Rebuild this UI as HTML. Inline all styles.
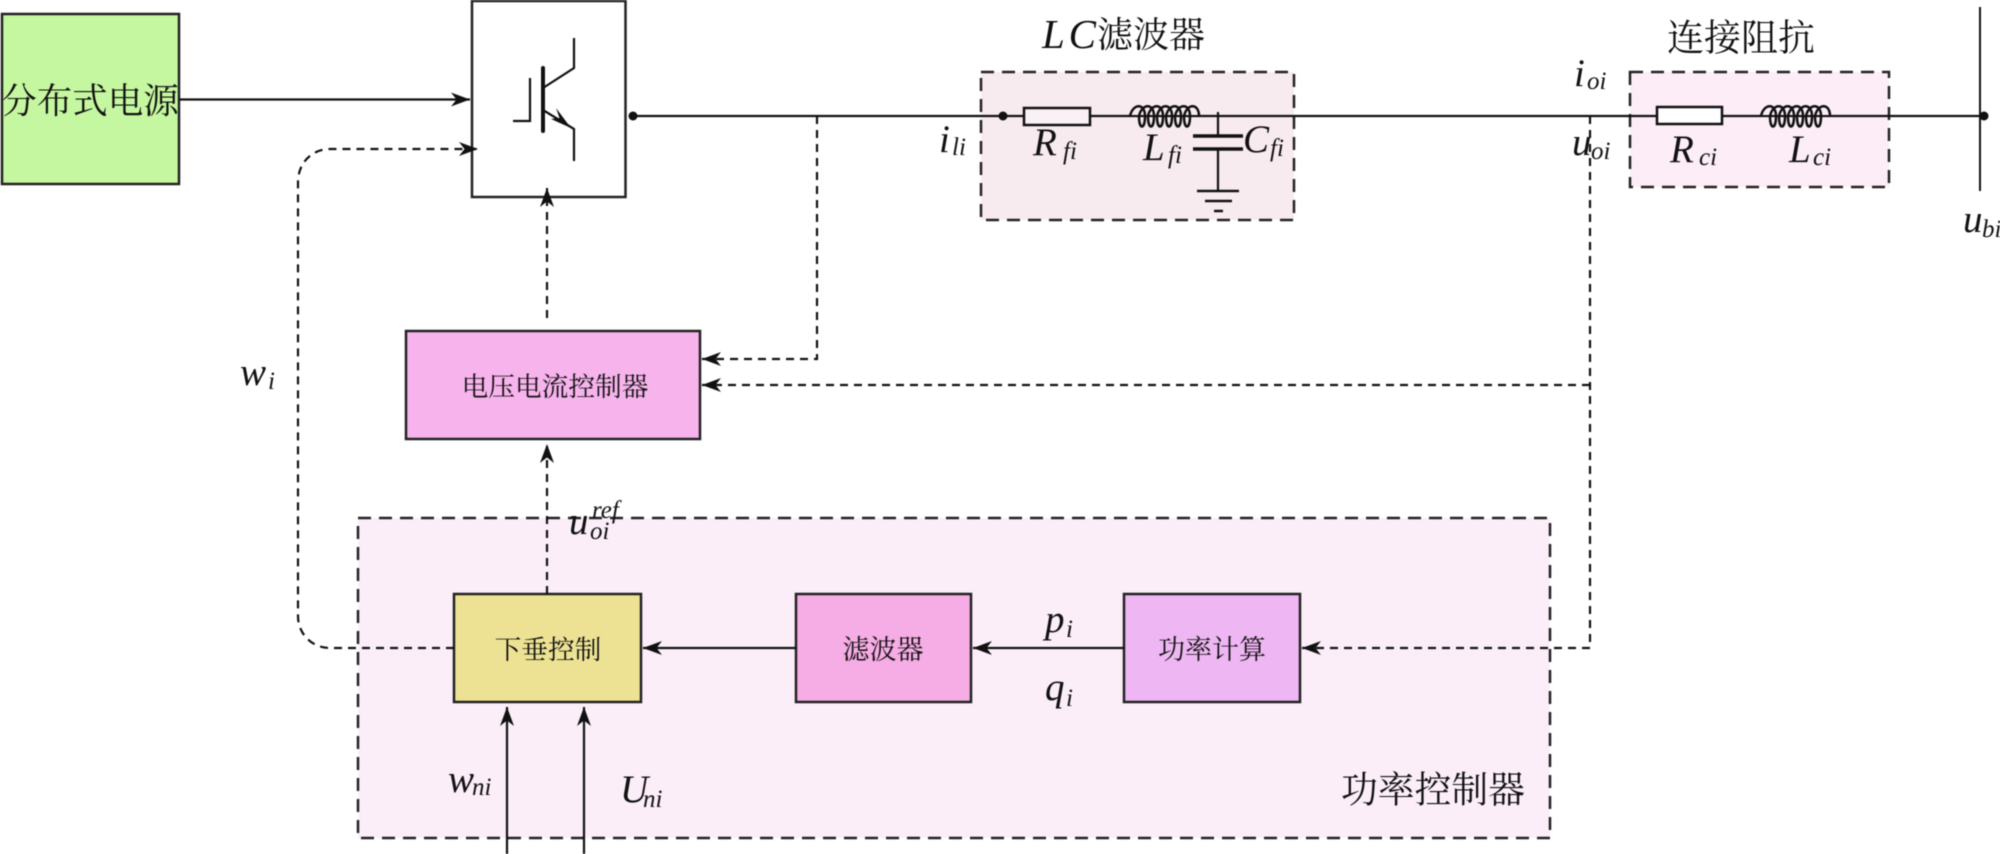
<!DOCTYPE html>
<html><head><meta charset="utf-8"><style>
html,body{margin:0;padding:0;background:#fff}
svg{display:block;filter:blur(.4px)}
.zh{font-family:"Liberation Serif","Noto Serif CJK SC",serif;text-anchor:middle;dominant-baseline:central;fill:#111}
.m{font-family:"Liberation Serif",serif;font-style:italic;font-size:39px;fill:#111}
.s{font-family:"Liberation Serif",serif;font-style:italic;font-size:25px;fill:#111}
.w{fill:none;stroke:#111;stroke-width:2.200}
.box{stroke:#222;stroke-width:2.500}
.dg{fill-opacity:1;stroke:#222;stroke-width:2.500;stroke-dasharray:13 8}
.d{fill:none;stroke:#111;stroke-width:2.200;stroke-dasharray:8 6}
</style></head><body>
<svg width="2000" height="854" viewBox="0 0 2000 854" xmlns="http://www.w3.org/2000/svg">
<defs>
<marker id="a" markerUnits="userSpaceOnUse" markerWidth="22" markerHeight="18" refX="19" refY="8" orient="auto">
<path d="M19 8 L0 1 L5.500 8 L0 15 Z" fill="#111"/>
</marker>
</defs>

<!-- group backgrounds -->
<rect x="981" y="72" width="313" height="148" fill="#f8ebf0" class="dg"/>
<rect x="1630" y="72" width="259" height="115" fill="#fcedf7" class="dg"/>
<rect x="358" y="518" width="1192" height="320" fill="#fbeef9" class="dg"/>

<!-- source -->
<rect x="2" y="14" width="177" height="170" fill="#c5f7a0" class="box"/>
<text x="90" y="101" class="zh" font-size="35.500">分布式电源</text>
<line x1="179" y1="99.500" x2="470" y2="99.500" class="w" marker-end="url(#a)"/>

<!-- IGBT box -->
<rect x="472" y="1" width="153.500" height="196" fill="#fff" class="box"/>
<path d="M574 38V68L543 88" class="w"/>
<path d="M543 110L574 129V161" class="w"/>
<path d="M571 128L556 108L559.500 118L551 119Z" fill="#111"/>
<line x1="543" y1="68" x2="543" y2="131" stroke="#111" stroke-width="4" stroke-linecap="round"/>
<path d="M513 121H530V78" class="w"/>

<!-- main bus -->
<circle cx="633" cy="116" r="4.500" fill="#111"/>
<line x1="633" y1="116" x2="1984" y2="116" stroke="#111" stroke-width="2.200"/>

<!-- LC filter -->
<circle cx="1003" cy="116" r="4.500" fill="#111"/>
<rect x="1024" y="108" width="66" height="17" fill="#f9f1f5" stroke="#111" stroke-width="2.500"/>
<rect x="1130" y="103" width="68" height="12" fill="#f8ebf0"/>
<path d="M1130 116c3-13 15-13 15 0c0 14-6 14-6 0c3-13 15-13 15 0c0 14-6 14-6 0c3-13 15-13 15 0c0 14-6 14-6 0c3-13 15-13 15 0c0 14-6 14-6 0c3-13 15-13 15 0c0 14-6 14-6 0c3-13 15-13 15 0c0 14-6 14-6 0c3-13 15-13 15 0" fill="none" stroke="#111" stroke-width="2.500"/>
<path d="M1218 112V136M1218 149V191" class="w"/>
<path d="M1193 136H1243M1193 149H1243" stroke="#111" stroke-width="3.500" fill="none"/>
<path d="M1197 191H1239M1205 201H1232M1214 211H1223" stroke="#111" stroke-width="2.500" fill="none"/>

<!-- connection impedance -->
<rect x="1657" y="107" width="65" height="17" fill="#fff" stroke="#111" stroke-width="2.500"/>
<rect x="1761" y="103" width="68" height="12" fill="#fcedf7"/>
<path d="M1761 116c3-13 15-13 15 0c0 14-6 14-6 0c3-13 15-13 15 0c0 14-6 14-6 0c3-13 15-13 15 0c0 14-6 14-6 0c3-13 15-13 15 0c0 14-6 14-6 0c3-13 15-13 15 0c0 14-6 14-6 0c3-13 15-13 15 0c0 14-6 14-6 0c3-13 15-13 15 0" fill="none" stroke="#111" stroke-width="2.500"/>
<line x1="1980" y1="7" x2="1980" y2="191" stroke="#111" stroke-width="2"/>
<circle cx="1984" cy="116" r="4.500" fill="#111"/>

<!-- controller boxes -->
<rect x="406" y="331" width="294" height="108" fill="#f6b3ec" class="box"/>
<text x="555" y="387" class="zh" font-size="26.700">电压电流控制器</text>
<rect x="454" y="594" width="187" height="108" fill="#ede294" class="box"/>
<text x="548" y="650" class="zh" font-size="26.700">下垂控制</text>
<rect x="796" y="594" width="175" height="108" fill="#f6ace4" class="box"/>
<text x="883" y="650" class="zh" font-size="27">滤波器</text>
<rect x="1124" y="594" width="176" height="108" fill="#eeb6f2" class="box"/>
<text x="1212" y="650" class="zh" font-size="27">功率计算</text>

<!-- connectors -->
<path d="M454 648H330C312 648 298 634 298 616V182C298 163 312 149 330 149H478" class="d" marker-end="url(#a)"/>
<line x1="547" y1="318" x2="547" y2="188" class="d" stroke-dasharray="13 8" marker-end="url(#a)"/>
<path d="M817 116V359H702" class="d" marker-end="url(#a)"/>
<line x1="1590" y1="385" x2="702" y2="385" class="d" marker-end="url(#a)"/>
<path d="M1590 116V648H1302" class="d" marker-end="url(#a)"/>
<line x1="547" y1="594" x2="547" y2="444" class="d" stroke-dasharray="13 8" marker-end="url(#a)"/>
<line x1="796" y1="648" x2="643" y2="648" class="w" marker-end="url(#a)"/>
<line x1="1124" y1="648" x2="973" y2="648" class="w" marker-end="url(#a)"/>
<line x1="507" y1="854" x2="507" y2="707" class="w" marker-end="url(#a)"/>
<line x1="584" y1="854" x2="584" y2="707" class="w" marker-end="url(#a)"/>

<!-- titles -->
<text x="1042" y="48" class="m" font-size="41" style="font-size:41px" textLength="54">LC</text>
<text x="1151" y="35" class="zh" font-size="36">滤波器</text>
<text x="1741" y="39" class="zh" font-size="37">连接阻抗</text>
<text x="1433" y="790" class="zh" font-size="36.800">功率控制器</text>

<!-- math labels -->
<text x="939" y="152" class="m">i</text><text x="952" y="155" class="s">li</text>
<text x="1033" y="155" class="m">R</text><text x="1063" y="159" class="s">fi</text>
<text x="1143" y="160" class="m">L</text><text x="1168" y="163" class="s">fi</text>
<text x="1243" y="152" class="m">C</text><text x="1270" y="156" class="s">fi</text>
<text x="1574" y="86" class="m">i</text><text x="1587" y="89" class="s">oi</text>
<text x="1572" y="155" class="m">u</text><text x="1591" y="159" class="s">oi</text>
<text x="1670" y="162" class="m">R</text><text x="1699" y="165" class="s">ci</text>
<text x="1789" y="162" class="m">L</text><text x="1813" y="165" class="s">ci</text>
<text x="1963" y="232" class="m">u</text><text x="1982" y="237" class="s">bi</text>
<text x="240" y="385" class="m">w</text><text x="268" y="389" class="s">i</text>
<text x="569" y="534" class="m">u</text><text x="590" y="539" class="s">oi</text><text x="592" y="518" class="s">ref</text>
<text x="448" y="792" class="m">w</text><text x="472" y="795" class="s">ni</text>
<text x="620" y="802" class="m">U</text><text x="643" y="807" class="s">ni</text>
<text x="1045" y="632" class="m">p</text><text x="1066" y="637" class="s">i</text>
<text x="1045" y="700" class="m">q</text><text x="1066" y="706" class="s">i</text>
</svg>
</body></html>
